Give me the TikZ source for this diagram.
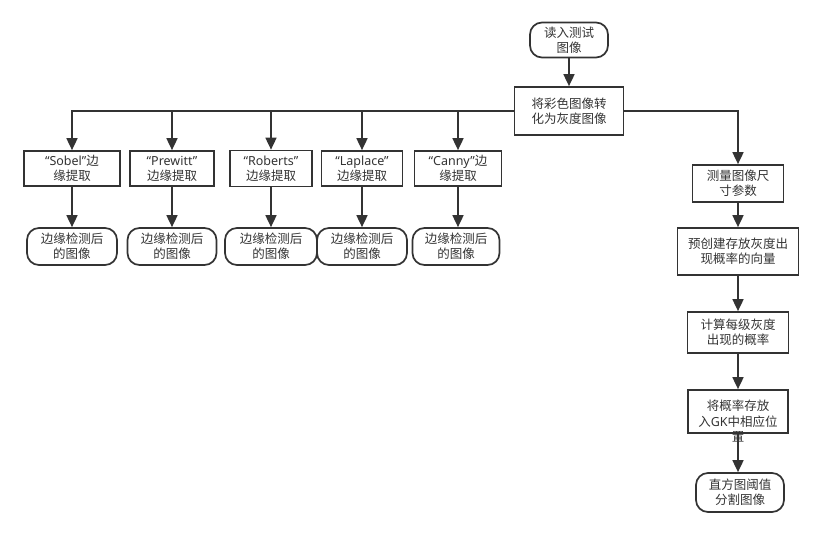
\documentclass[tikz,border=0pt]{standalone}
\usepackage{fontspec}
\setmainfont{Noto Sans CJK SC}
\newfontfamily\latn{Noto Sans}
\usetikzlibrary{arrows.meta}
\definecolor{ink}{HTML}{333333}
\tikzset{
  base/.style={draw=ink, line width=1.7pt, text=ink, align=center, inner sep=0pt,
    font=\fontsize{12.5}{15}\selectfont},
  proc/.style={base, rectangle},
  term/.style={base, rectangle, rounded corners=12pt},
  arr/.style={draw=ink, line width=1.7pt, -{Triangle[length=12pt,width=11pt]}},
  ln/.style={draw=ink, line width=1.7pt}
}
\begin{document}
\begin{tikzpicture}[x=1pt,y=-1pt]
\useasboundingbox (0,0) rectangle (827,535);
% top
\node[term, minimum width=78, minimum height=35] (read) at (569,40) {读入测试\\图像};
\node[proc, minimum width=109, minimum height=48] (gray) at (569,111) {将彩色图像转\\化为灰度图像};
% left edge boxes
\node[proc, minimum width=96, minimum height=35] (sobel) at (72,168.5) {{\latn “Sobel”}边\\缘提取};
\node[proc, minimum width=84, minimum height=35] (prewitt) at (172,168.5) {{\latn “Prewitt”}\\边缘提取};
\node[proc, minimum width=82, minimum height=36] (roberts) at (271,168.5) {{\latn “Roberts”}\\边缘提取};
\node[proc, minimum width=81, minimum height=35] (laplace) at (362,168.5) {{\latn “Laplace”}\\边缘提取};
\node[proc, minimum width=87, minimum height=35] (canny) at (458,168.5) {{\latn “Canny”}边\\缘提取};
% terminals
\node[term, minimum width=90, minimum height=37] (sobelt) at (72,246.5) {边缘检测后\\的图像};
\node[term, minimum width=89, minimum height=37] (prewittt) at (172,246.5) {边缘检测后\\的图像};
\node[term, minimum width=92, minimum height=37] (robertst) at (271,246.5) {边缘检测后\\的图像};
\node[term, minimum width=90, minimum height=37] (laplacet) at (362,246.5) {边缘检测后\\的图像};
\node[term, minimum width=87, minimum height=37] (cannyt) at (456,246.5) {边缘检测后\\的图像};
% right column
\node[proc, minimum width=91, minimum height=37] (measure) at (738,183.5) {测量图像尺\\寸参数};
\node[proc, minimum width=121, minimum height=47] (precreate) at (738,251.5) {预创建存放灰度出\\现概率的向量};
\node[proc, minimum width=101, minimum height=41] (compute) at (738,332.5) {计算每级灰度\\出现的概率};
\node[proc, minimum width=100, minimum height=43] (gk) at (738,411.5) {};
\node[base, draw=none, anchor=north, font=\fontsize{12.5}{15.5}\selectfont] (gktext) at (738,399.5) {将概率存放\\入{\latn GK}中相应位\\置};
\node[term, minimum width=88, minimum height=39] (final) at (740,492.5) {直方图阈值\\分割图像};
% connectors
\draw[arr] (read) -- (gray);
\draw[arr] (gray.west) -| (sobel.north);
\draw[arr] (prewitt.north |- gray.west) -- (prewitt.north);
\draw[arr] (roberts.north |- gray.west) -- (roberts.north);
\draw[arr] (laplace.north |- gray.west) -- (laplace.north);
\draw[arr] (canny.north |- gray.west) -- (canny.north);
\draw[arr] (gray.east) -| (measure.north);
\draw[arr] (sobel) -- (sobelt);
\draw[arr] (prewitt) -- (prewittt);
\draw[arr] (roberts) -- (robertst);
\draw[arr] (laplace) -- (laplacet);
\draw[arr] (canny.south) -- (canny.south |- cannyt.north);
\draw[arr] (measure) -- (precreate);
\draw[arr] (precreate) -- (compute);
\draw[arr] (compute) -- (gk);
\draw[arr] (gk.south) -- (gk.south |- final.north);
\end{tikzpicture}
\end{document}
